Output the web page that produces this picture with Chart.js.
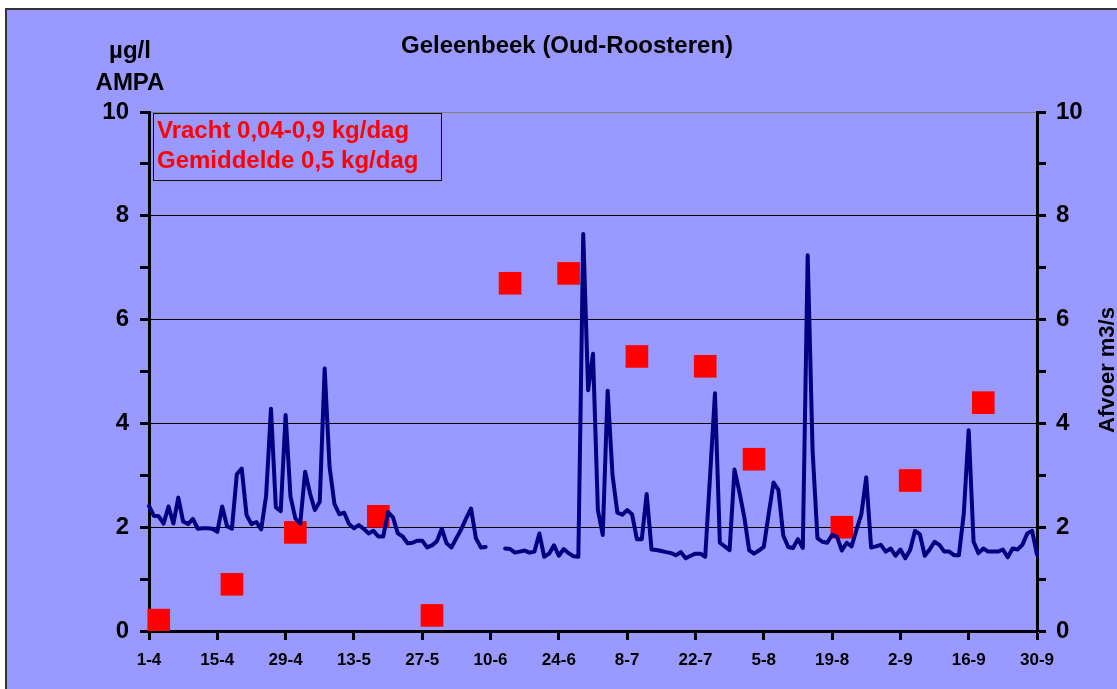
<!DOCTYPE html>
<html>
<head>
<meta charset="utf-8">
<script src="https://cdn.jsdelivr.net/npm/chart.js@4.4.1/dist/chart.umd.min.js"></script>
<style>
  html, body { margin: 0; padding: 0; background: #fff; overflow: hidden; }
  body { width: 1117px; height: 689px; position: relative; font-family: "Liberation Sans", Arial, sans-serif; }
  #frame { position: absolute; left: 5px; top: 8px; width: 1200px; height: 800px;
           background: #9999ff; border-left: 2px solid #333; border-top: 2px solid #333; }
  #wrap { position: absolute; left: 0; top: 0; width: 1117px; height: 689px; }
  .lbl { position: absolute; font-weight: bold; color: #000; white-space: nowrap; }
  #title { left: 367px; top: 33px; width: 400px; text-align: center; font-size: 24px; line-height: 24px; }
  #unit1 { left: 80px; top: 38px; width: 100px; text-align: center; font-size: 24px; line-height: 24px; }
  #unit2 { left: 80px; top: 70px; width: 100px; text-align: center; font-size: 24px; line-height: 24px; }
  #afvoer { left: 1007px; top: 359px; width: 200px; text-align: center; font-size: 22px; line-height: 22px;
            transform: rotate(-90deg); transform-origin: 100px 11px; }
  #note { position: absolute; left: 153px; top: 113px; width: 289px; height: 68px; border: 1px solid #111;
          color: #ff0000; font-weight: bold; font-size: 24px; line-height: 30px; padding: 1px 0 0 3px; box-sizing: border-box; }
</style>
</head>
<body>
<div id="frame"></div>
<div id="wrap"><canvas id="chart"></canvas></div>
<div class="lbl" id="title">Geleenbeek (Oud-Roosteren)</div>
<div class="lbl" id="unit1">µg/l</div>
<div class="lbl" id="unit2">AMPA</div>
<div class="lbl" id="afvoer">Afvoer m3/s</div>
<div id="note">Vracht 0,04-0,9 kg/dag<br>Gemiddelde 0,5 kg/dag</div>
<script>
// dagen 1-4 t/m 30-9
const months = [4, 5, 6, 7, 8, 9];
const monthDays = [30, 31, 30, 31, 31, 30];
const days = [];
months.forEach((m, i) => { for (let d = 1; d <= monthDays[i]; d++) days.push(d + '-' + m); });

// afvoer m3/s per dag (rechter as)
const afvoer = [
  2.41, 2.22, 2.21, 2.07, 2.40, 2.07, 2.57, 2.11, 2.06, 2.16,
  1.97, 1.98, 1.98, 1.97, 1.91, 2.40, 2.02, 1.97, 3.02, 3.13,
  2.23, 2.06, 2.10, 1.96, 2.60, 4.28, 2.38, 2.31, 4.16, 2.59,
  2.17, 2.07, 3.07, 2.65, 2.33, 2.49, 5.06, 3.17, 2.45, 2.25,
  2.28, 2.06, 1.98, 2.04, 1.97, 1.88, 1.93, 1.82, 1.82, 2.29,
  2.19, 1.88, 1.82, 1.69, 1.70, 1.74, 1.74, 1.61, 1.65, 1.73,
  1.97, 1.69, 1.61, 1.79, 1.96, 2.17, 2.36, 1.79, 1.61, 1.62,
  null, null, null, 1.59, 1.58, 1.51, 1.53, 1.55, 1.51, 1.53,
  1.88, 1.43, 1.49, 1.65, 1.45, 1.58, 1.50, 1.44, 1.43, 7.65,
  4.64, 5.34, 2.33, 1.85, 4.63, 3.00, 2.28, 2.24, 2.33, 2.25,
  1.77, 1.77, 2.64, 1.57, 1.56, 1.54, 1.52, 1.50, 1.46, 1.52,
  1.40, 1.45, 1.49, 1.49, 1.43, 3.00, 4.58, 1.70, 1.63, 1.56,
  3.11, 2.68, 2.20, 1.56, 1.49, 1.55, 1.62, 2.25, 2.86, 2.72,
  1.84, 1.62, 1.60, 1.77, 1.60, 7.24, 3.49, 1.79, 1.72, 1.70,
  1.85, 1.82, 1.55, 1.70, 1.63, 1.95, 2.25, 2.96, 1.61, 1.63,
  1.66, 1.53, 1.59, 1.45, 1.57, 1.40, 1.56, 1.93, 1.86, 1.45,
  1.57, 1.72, 1.66, 1.53, 1.53, 1.46, 1.46, 2.27, 3.87, 1.72,
  1.50, 1.59, 1.53, 1.53, 1.53, 1.57, 1.42, 1.59, 1.57, 1.66,
  1.88, 1.93, 1.47
];

// AMPA metingen µg/l (linker as)
const sampleDates = ['3-4', '18-4', '1-5', '18-5', '29-5', '14-6', '26-6', '10-7', '24-7', '3-8', '21-8', '4-9', '19-9'];
const sampleValues = [0.21, 0.90, 1.90, 2.21, 0.30, 6.70, 6.89, 5.29, 5.10, 3.31, 2.00, 2.90, 4.40];

const yTicks = [0, 2, 4, 6, 8, 10];
const labelEvery = 14;

const fontY = { family: 'Liberation Sans, Arial, sans-serif', size: 24, weight: 'bold' };
const fontX = { family: 'Liberation Sans, Arial, sans-serif', size: 17, weight: 'bold' };

function yAxis(pos, w) {
  return {
    position: pos, min: 0, max: 10,
    afterFit: s => { s.width = w; },
    ticks: {
      stepSize: 1, color: '#000', font: fontY, padding: pos === 'left' ? 11 : 10,
      callback: v => yTicks.includes(v) ? String(v) : ''
    },
    grid: {
      drawOnChartArea: pos === 'left',
      color: c => c.tick.value === 10 ? '#808080' : (c.tick.value % 2 === 0 ? '#000' : 'rgba(0,0,0,0)'),
      lineWidth: 1,
      tickColor: '#000', tickWidth: 3, tickLength: 9
    },
    border: { display: true, color: '#000', width: 3 }
  };
}

new Chart(document.getElementById('chart'), {
  type: 'line',
  data: {
    labels: days,
    datasets: [
      {
        label: 'Afvoer m3/s', data: afvoer, yAxisID: 'y2', order: 0,
        borderColor: '#000080', borderWidth: 4, pointRadius: 0,
        borderJoinStyle: 'round', borderCapStyle: 'round', tension: 0, spanGaps: false
      },
      {
        label: 'AMPA', data: sampleDates.map((d, i) => ({ x: d, y: sampleValues[i] })), yAxisID: 'y', order: 1,
        showLine: false, pointStyle: 'rect', pointRadius: 16, pointHoverRadius: 16,
        pointBackgroundColor: '#ff0000', pointBorderWidth: 0, pointBorderColor: '#ff0000'
      }
    ]
  },
  options: {
    responsive: true, maintainAspectRatio: false, animation: false,
    layout: { padding: { top: 112, left: 0, right: 0, bottom: 0 } },
    plugins: { legend: { display: false }, tooltip: { enabled: false }, title: { display: false } },
    scales: {
      x: {
        type: 'category', offset: false,
        afterFit: s => { s.height = 58; },
        ticks: {
          autoSkip: false, maxRotation: 0, minRotation: 0, color: '#000', font: fontX, padding: 10,
          callback: (v, i) => i % labelEvery === 0 ? days[i] : null
        },
        grid: { drawOnChartArea: false, color: '#000', tickColor: '#000', tickWidth: 3, tickLength: 9 },
        border: { display: true, color: '#000', width: 3 }
      },
      y: yAxis('left', 149),
      y2: yAxis('right', 80)
    }
  }
});
</script>
</body>
</html>
